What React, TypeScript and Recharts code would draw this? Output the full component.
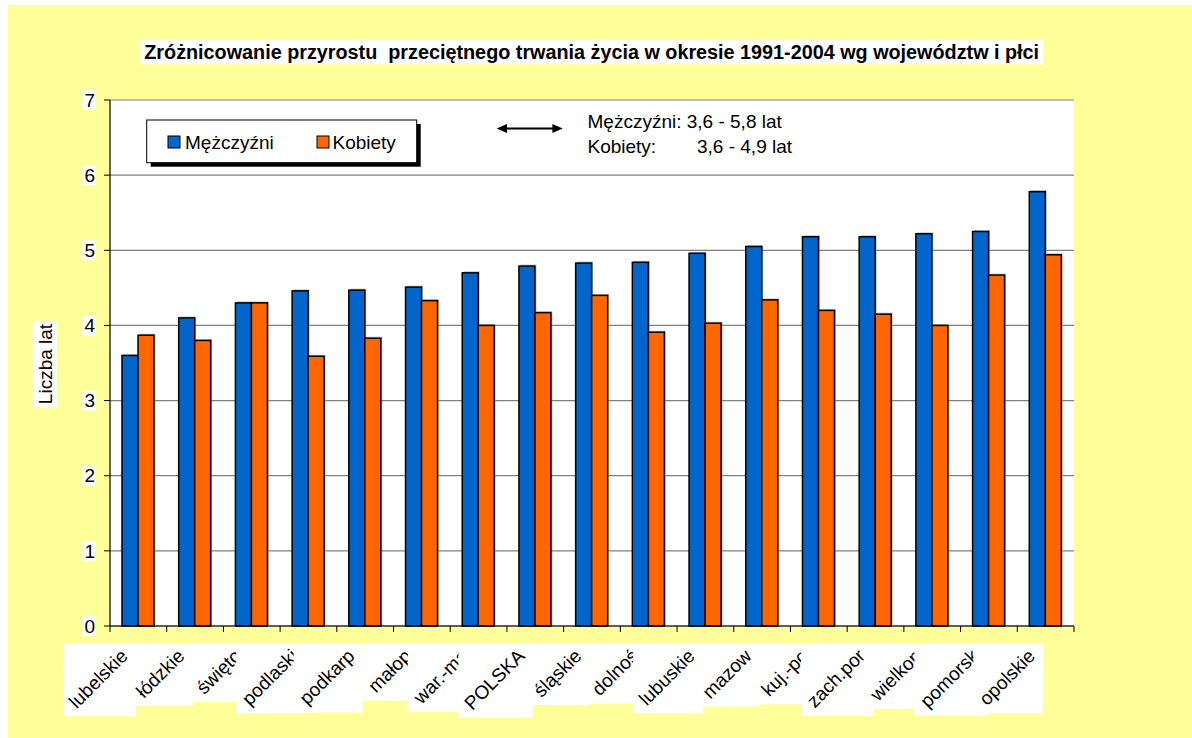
import React from "react";
import { BarChart, Bar, XAxis, YAxis, CartesianGrid } from "recharts";

const categories = [
  "lubelskie", "łódzkie", "świętokrzyskie", "podlaskie", "podkarpackie", "małopolskie",
  "war.-mazurskie", "POLSKA", "śląskie", "dolnośląskie", "lubuskie", "mazowieckie",
  "kuj.-pomorskie", "zach.pomorskie", "wielkopolskie", "pomorskie", "opolskie",
];
const tickLabels = [
  "lubelskie", "łódzkie", "święto", "podlaski", "podkarp", "małop",
  "war.-ma", "POLSKA", "śląskie", "dolnoś", "lubuskie", "mazow",
  "kuj.-po", "zach.por", "wielkop", "pomorsk", "opolskie",
];
const men = [3.6, 4.1, 4.3, 4.46, 4.47, 4.51, 4.7, 4.79, 4.83, 4.84, 4.96, 5.05, 5.18, 5.18, 5.22, 5.25, 5.78];
const women = [3.87, 3.8, 4.3, 3.59, 3.83, 4.33, 4.0, 4.17, 4.4, 3.91, 4.03, 4.34, 4.2, 4.15, 4.0, 4.67, 4.94];
const yTicks = [0, 1, 2, 3, 4, 5, 6, 7];

const seriesNames = ["Mężczyźni", "Kobiety"];
const title = "Zróżnicowanie przyrostu  przeciętnego trwania życia w okresie 1991-2004 wg województw i płci";
const yLabel = "Liczba lat";
const noteLine1 = "Mężczyźni: 3,6 - 5,8 lat";
const noteLine2a = "Kobiety:";
const noteLine2b = "3,6 - 4,9 lat";

const data = categories.map((c, i) => ({ name: c, m: men[i], k: women[i] }));

const FONT = '"Liberation Sans", Arial, sans-serif';
const BLUE = "#0066CC";
const ORANGE = "#FF6600";

let ctx: CanvasRenderingContext2D | null = null;
function measure(text: string, font: string): number {
  if (!ctx) ctx = document.createElement("canvas").getContext("2d");
  if (!ctx) return text.length * 10;
  ctx.font = font;
  return ctx.measureText(text).width;
}

function XTick(props: any) {
  const { x, y, payload, index } = props;
  const cx = Number(x);
  const ay = Number(y);
  const half = payload && payload.offset ? payload.offset : 28.35;
  const label = tickLabels[index] ?? "";
  const L = measure(label, `19px ${FONT}`);
  const s = 0.7071 * (L + 17.7) + 8;
  const right = cx - 2.5;
  const top = ay + 17.5;
  const left = right - s;
  const bottom = top + s;
  const sx = left + 4 + 0.7071 * 13.7;
  const sy = bottom - 4 - 0.7071 * 4;
  return (
    <g>
      <line x1={cx - half} y1={ay} x2={cx - half} y2={ay + 6} stroke="#000" />
      {index === categories.length - 1 && (
        <line x1={cx + half} y1={ay} x2={cx + half} y2={ay + 6} stroke="#000" />
      )}
      <rect x={left} y={top} width={s} height={s} fill="#fff" />
      <text
        x={sx}
        y={sy}
        transform={`rotate(-45, ${sx}, ${sy})`}
        fontSize={19}
        fontFamily={FONT}
        fill="#000"
      >
        {label}
      </text>
    </g>
  );
}

function YTick(props: any) {
  const { x, y, payload } = props;
  const label = String(payload.value);
  const w = measure(label, `19px ${FONT}`);
  return (
    <g>
      <rect x={x - w - 2} y={y - 10} width={w + 3} height={20} fill="#fff" />
      <text x={x} y={y} dy="0.35em" textAnchor="end" fontSize={19} fontFamily={FONT} fill="#000">
        {label}
      </text>
    </g>
  );
}

function ShadowBar(props: any) {
  const { x, y, width, height, fill } = props;
  if (height == null || height <= 0) return null;
  return (
    <g>
      <rect x={x + 1.5} y={y - 1.5} width={width} height={height + 1.5} fill="#9a9a9a" opacity={0.6} />
      <rect x={x} y={y} width={width} height={height} fill={fill} stroke="#000" strokeWidth={1.5} />
    </g>
  );
}

export default function App() {
  const titleW = measure(title, `bold 19.8px ${FONT}`);
  const yLabW = measure(yLabel, `19px ${FONT}`);
  return (
    <div
      style={{
        position: "absolute",
        left: 8,
        top: 5,
        width: 1184,
        height: 733,
        background: "#FFFF99",
        fontFamily: FONT,
      }}
    >
      <BarChart
        width={1184}
        height={733}
        data={data}
        margin={{ top: 95, right: 118, bottom: 0, left: 0 }}
        barGap={0}
        barSize={16}
      >
        <CartesianGrid vertical={false} stroke="#808080" strokeWidth={1.2} fill="#fff" />
        <XAxis
          dataKey="name"
          height={112}
          interval={0}
          tickLine={false}
          tickSize={0}
          tickMargin={0}
          axisLine={{ stroke: "#000", strokeWidth: 1.2 }}
          tick={(p: any) => <XTick {...p} />}
        />
        <YAxis
          width={102}
          domain={[0, 7]}
          ticks={yTicks}
          interval={0}
          tickSize={6}
          tickMargin={9}
          tickLine={{ stroke: "#000" }}
          axisLine={{ stroke: "#000", strokeWidth: 1.2 }}
          tick={<YTick />}
        />
        <YAxis
          yAxisId="r"
          orientation="right"
          width={0}
          domain={[0, 7]}
          tick={false}
          tickLine={false}
          axisLine={{ stroke: "#808080", strokeWidth: 1.2 }}
        />
        <Bar dataKey="m" name={seriesNames[0]} fill={BLUE} shape={<ShadowBar />} isAnimationActive={false} />
        <Bar dataKey="k" name={seriesNames[1]} fill={ORANGE} shape={<ShadowBar />} isAnimationActive={false} />
      </BarChart>
      <svg
        width={1184}
        height={733}
        style={{ position: "absolute", left: 0, top: 0, pointerEvents: "none" }}
      >
        <g transform="translate(-8,-5)" fontFamily={FONT}>
          <rect x={591.7 - titleW / 2 - 4} y={40} width={titleW + 8} height={24.3} fill="#fff" />
          <text x={591.7} y={59.3} textAnchor="middle" fontWeight="bold" fontSize={19.8} fill="#000" style={{ whiteSpace: "pre" }}>
            {title}
          </text>

          <rect x={32.7} y={364 - yLabW / 2 - 3} width={24} height={yLabW + 6} fill="#fff" />
          <text x={51.6} y={364} transform="rotate(-90 51.6 364)" textAnchor="middle" fontSize={19} fill="#000">
            {yLabel}
          </text>

          <rect x={150.7} y={124} width={270} height={42.7} fill="#000" />
          <rect x={146.7} y={120} width={270} height={42.7} fill="#fff" stroke="#000" strokeWidth={1} />
          <rect x={168} y={136} width={12} height={12} fill={BLUE} stroke="#000" strokeWidth={1} />
          <text x={185} y={148.5} fontSize={19} fill="#000">{seriesNames[0]}</text>
          <rect x={317} y={136} width={12} height={12} fill={ORANGE} stroke="#000" strokeWidth={1} />
          <text x={332.5} y={148.5} fontSize={19} fill="#000">{seriesNames[1]}</text>

          <line x1={503} y1={128.5} x2={556} y2={128.5} stroke="#000" strokeWidth={2} />
          <polygon points="496.7,128.5 507,124 507,133" fill="#000" />
          <polygon points="562.7,128.5 552.4,124 552.4,133" fill="#000" />

          <text x={587.5} y={128.3} fontSize={19} fill="#000">{noteLine1}</text>
          <text x={587.5} y={152.7} fontSize={19} fill="#000">{noteLine2a}</text>
          <text x={697} y={152.7} fontSize={19} fill="#000">{noteLine2b}</text>
        </g>
      </svg>
    </div>
  );
}
